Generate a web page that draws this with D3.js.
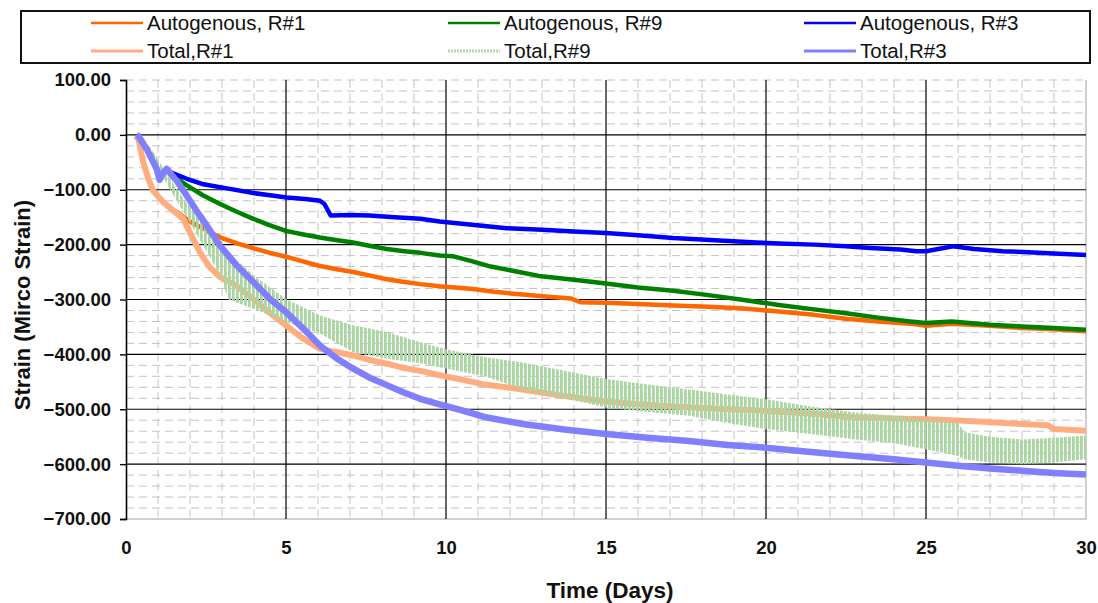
<!DOCTYPE html>
<html>
<head>
<meta charset="utf-8">
<script src="https://cdn.jsdelivr.net/npm/d3@7"></script>
<style>
  body { margin: 0; background: #fff; }
  svg text { font-family: "Liberation Sans", Arial, sans-serif; }
</style>
</head>
<body>
<svg id="chart" width="1098" height="603"></svg>
<script>
// values, [day, micro strain]
var autoR1 = [[1.48,-138],[1.6,-141],[2.0,-158],[2.4,-170],[2.63,-178],[3.0,-188],[3.5,-198],[4.0,-207],[4.5,-215],[5.0,-222],[5.5,-230],[6.0,-238],[6.5,-244],[7.1,-250],[7.6,-256],[8.15,-263],[8.7,-268],[9.2,-272],[9.8,-276],[10.85,-281],[11.5,-286],[12.4,-291],[13.2,-295],[13.9,-298],[14.2,-305],[15,-306],[16,-308],[17.1,-311],[18.2,-313],[19.2,-316],[20.4,-322],[21.5,-328],[22.5,-335],[23.5,-340],[24.5,-344],[25,-348],[25.8,-344],[27,-348],[28,-352],[29,-354],[30,-358]];
var autoR9 = [[1.3,-62],[1.375,-71],[1.9,-92],[2.4,-110],[2.94,-126],[3.5,-141],[3.98,-153],[4.5,-165],[5.0,-175],[5.5,-181],[6.06,-187],[6.6,-192],[7.1,-196],[7.6,-202],[8.15,-208],[8.7,-212],[9.2,-215],[9.8,-220],[10.2,-221],[10.8,-230],[11.4,-240],[12.2,-249],[12.9,-257],[14,-264],[15,-271],[16,-278],[17.1,-284],[18.2,-292],[19.2,-300],[20.4,-310],[21.5,-318],[22.5,-325],[23.5,-333],[24.5,-340],[25,-343],[25.8,-340],[27,-346],[28,-349],[29,-352],[30,-355]];
var autoR3 = [[1.3,-62],[1.375,-68],[1.9,-80],[2.42,-90],[3.2,-98],[3.98,-106],[4.5,-110],[5.02,-114],[5.6,-117],[6.06,-120],[6.2,-126],[6.4,-147],[7,-146],[7.6,-147],[8.4,-150],[9.2,-153],[9.8,-158],[10.5,-162],[11.2,-166],[11.9,-170],[13,-173],[14,-176],[15,-179],[16,-183],[17.1,-188],[18.4,-192],[19.7,-196],[20.4,-198],[21.5,-200],[22.5,-203],[23.25,-206],[24.2,-209],[24.7,-212],[25,-212],[25.85,-203],[26.5,-208],[27.4,-212],[28.2,-214],[29,-216],[30,-219]];
var totalR1 = [[0.3,-2],[0.39,-8],[0.54,-50],[0.7,-80],[0.85,-102],[1.17,-123],[1.48,-138],[1.79,-153],[2.05,-184],[2.31,-214],[2.6,-240],[2.94,-259],[3.46,-275],[4.0,-300],[4.5,-325],[5.0,-347],[5.5,-370],[6.06,-390],[6.6,-396],[7.1,-402],[7.6,-410],[8.15,-417],[8.7,-425],[9.2,-430],[9.8,-438],[10.5,-446],[11.2,-455],[12.4,-464],[13.7,-476],[15,-486],[16,-491],[17.1,-495],[18.5,-499],[20,-503],[21.5,-508],[22.8,-515],[25,-518],[26.5,-522],[28,-527],[28.8,-529],[29,-536],[30,-539]];
var totalR3 = [[0.33,0],[0.39,-2],[0.65,-26],[0.96,-62],[1.05,-82],[1.15,-70],[1.27,-62],[1.6,-85],[1.9,-111],[2.2,-138],[2.52,-165],[2.94,-202],[3.2,-220],[3.46,-238],[3.98,-268],[4.5,-299],[5.0,-323],[5.54,-353],[6.06,-384],[6.6,-408],[7.1,-426],[7.6,-442],[8.15,-456],[8.7,-470],[9.19,-481],[9.8,-491],[10.5,-502],[11.2,-514],[12.4,-527],[13.7,-537],[15,-545],[16.3,-552],[17.6,-558],[18.8,-565],[20,-570],[21.4,-578],[22.8,-585],[24,-591],[25,-597],[26,-603],[27,-608],[28,-612],[29,-616],[30,-619]];
// Total R#9 swings up and down: kept as its upper and lower envelope
var totalR9Days   = [0.33,0.75,1.0,1.375,1.9,2.4,2.94,3.2,3.98,5.0,6.06,7.1,8.15,9.2,10.1,11.2,12.4,13.7,15,16.3,17.6,18.8,20,21.4,22.8,24,25,26,26.2,27,28,29,30];
var totalR9Top    = [-5,-22,-45,-80,-125,-150,-196,-214,-256,-299,-329,-347,-359,-378,-392,-405,-415,-430,-445,-455,-464,-473,-482,-495,-506,-512,-518,-525,-542,-550,-555,-552,-548];
var totalR9Bottom = [-10,-35,-58,-100,-150,-200,-256,-300,-317,-341,-362,-396,-408,-416,-427,-440,-464,-480,-497,-505,-512,-525,-536,-545,-555,-562,-573,-585,-591,-597,-600,-597,-591];

var yTicks = [100,0,-100,-200,-300,-400,-500,-600,-700];
var xTicks = [0,5,10,15,20,25,30];
var legendNames = ["Autogenous, R#1","Autogenous, R#9","Autogenous, R#3","Total,R#1","Total,R#9","Total,R#3"];

var svg = d3.select("#chart");
var pLeft = 126, pRight = 1086, pTop = 80, pBottom = 519;

var x = d3.scaleLinear().domain([0,30]).range([pLeft,pRight]);
var y = d3.scaleLinear().domain([-700,100]).range([pBottom,pTop]);

// minor dashed grid
var grid = svg.append("g");
d3.range(-680,100,20).filter(function(v){ return v % 100 != 0; }).forEach(function(v){
  grid.append("line").attr("x1",pLeft).attr("x2",pRight).attr("y1",y(v)).attr("y2",y(v))
    .attr("stroke","#c4c4c4").attr("stroke-dasharray","8,5").attr("stroke-width",1);
});
d3.range(1,30).filter(function(d){ return d % 5 != 0; }).forEach(function(d){
  grid.append("line").attr("x1",x(d)).attr("x2",x(d)).attr("y1",pTop).attr("y2",pBottom)
    .attr("stroke","#c4c4c4").attr("stroke-dasharray","8,5").attr("stroke-width",1);
});
// top dashed edge
grid.append("line").attr("x1",pLeft).attr("x2",pRight).attr("y1",pTop).attr("y2",pTop)
  .attr("stroke","#c4c4c4").attr("stroke-dasharray","8,5");
// right + bottom frame
grid.append("path").attr("d","M"+pRight+","+pTop+"V"+pBottom+"H"+pLeft)
  .attr("fill","none").attr("stroke","#c0c0c0").attr("stroke-width",1.5);
// major grid
[0,-100,-200,-300,-400,-500,-600].forEach(function(v){
  grid.append("line").attr("x1",pLeft).attr("x2",pRight).attr("y1",y(v)).attr("y2",y(v))
    .attr("stroke","#000").attr("stroke-width",1.2);
});
[5,10,15,20,25].forEach(function(d){
  grid.append("line").attr("x1",x(d)).attr("x2",x(d)).attr("y1",pTop).attr("y2",pBottom)
    .attr("stroke","#000").attr("stroke-width",1.2);
});

// y axis
var yAxis = d3.axisLeft(y).tickValues(yTicks).tickSize(6).tickFormat(d3.format(".2f"));
var gy = svg.append("g").attr("transform","translate("+pLeft+",0)").call(yAxis);
gy.select(".domain").attr("stroke","#000").attr("stroke-width",1.6);
gy.selectAll(".tick line").attr("stroke","#000").attr("stroke-width",1.4);
gy.selectAll("text").attr("font-size",18.5).attr("font-weight","bold").attr("fill","#111")
  .attr("x",-15).attr("font-family","Liberation Sans, Arial, sans-serif");

// x axis labels (no line)
var xAxis = d3.axisBottom(x).tickValues(xTicks).tickSize(0).tickFormat(d3.format("d"));
var gx = svg.append("g").attr("transform","translate(0,"+pBottom+")").call(xAxis);
gx.select(".domain").remove();
gx.selectAll("text").attr("font-size",18.5).attr("font-weight","bold").attr("fill","#111")
  .attr("y",22).attr("font-family","Liberation Sans, Arial, sans-serif");

// titles
svg.append("text").attr("x",610).attr("y",598).attr("text-anchor","middle")
  .attr("font-size",22.5).attr("font-weight","bold").attr("fill","#111").text("Time (Days)");
svg.append("text").attr("transform","translate(30,305) rotate(-90)").attr("text-anchor","middle")
  .attr("font-size",22).attr("font-weight","bold").attr("fill","#111").text("Strain (Mirco Strain)");

// hatch pattern for Total R#9
var defs = svg.append("defs");
var pat = defs.append("pattern").attr("id","hatch").attr("patternUnits","userSpaceOnUse")
  .attr("width",4).attr("height",10);
pat.append("rect").attr("x",0).attr("y",0).attr("width",2.8).attr("height",10).attr("fill","#a9d6a1");
defs.append("clipPath").attr("id","plotclip").append("rect")
  .attr("x",pLeft).attr("y",pTop).attr("width",pRight-pLeft).attr("height",pBottom-pTop);

var line = d3.line().x(function(d){ return x(d[0]); }).y(function(d){ return y(d[1]); });
var plot = svg.append("g").attr("clip-path","url(#plotclip)");

function drawLine(data, color, w){
  plot.append("path").datum(data).attr("d",line).attr("fill","none")
    .attr("stroke",color).attr("stroke-width",w).attr("stroke-linejoin","round");
}

drawLine(autoR1,"#ff6600",4.5);
drawLine(autoR9,"#008000",4.5);
drawLine(autoR3,"#0000ff",4.5);
drawLine(totalR1,"#ffad7f",6);

var band = d3.area()
  .x(function(d,i){ return x(totalR9Days[i]); })
  .y0(function(d,i){ return y(totalR9Bottom[i]); })
  .y1(function(d,i){ return y(totalR9Top[i]); });
plot.append("path").datum(totalR9Top).attr("d",band).attr("fill","url(#hatch)");

drawLine(totalR3,"#8080ff",6.5);

// legend
var lg = svg.append("g");
lg.append("rect").attr("x",21).attr("y",11).attr("width",1069).attr("height",52)
  .attr("fill","#fff").attr("stroke","#111").attr("stroke-width",2);
var legendColors = ["#ff6600","#008000","#0000ff","#ffad7f","#b3dbab","#8080ff"];
var colX = [91,448,804];
var rowY = [23,51];
legendNames.forEach(function(name,i){
  var cx = colX[i % 3], cy = rowY[Math.floor(i / 3)];
  var l = lg.append("line").attr("x1",cx).attr("x2",cx+52).attr("y1",cy).attr("y2",cy)
    .attr("stroke",legendColors[i]).attr("stroke-width",i < 3 ? 2.5 : 3);
  if (i == 4) l.attr("stroke-dasharray","2,1");
  lg.append("text").attr("x",cx+56).attr("y",cy).attr("dy","0.35em")
    .attr("font-size",20.5).attr("fill","#111").text(name);
});
</script>
</body>
</html>
